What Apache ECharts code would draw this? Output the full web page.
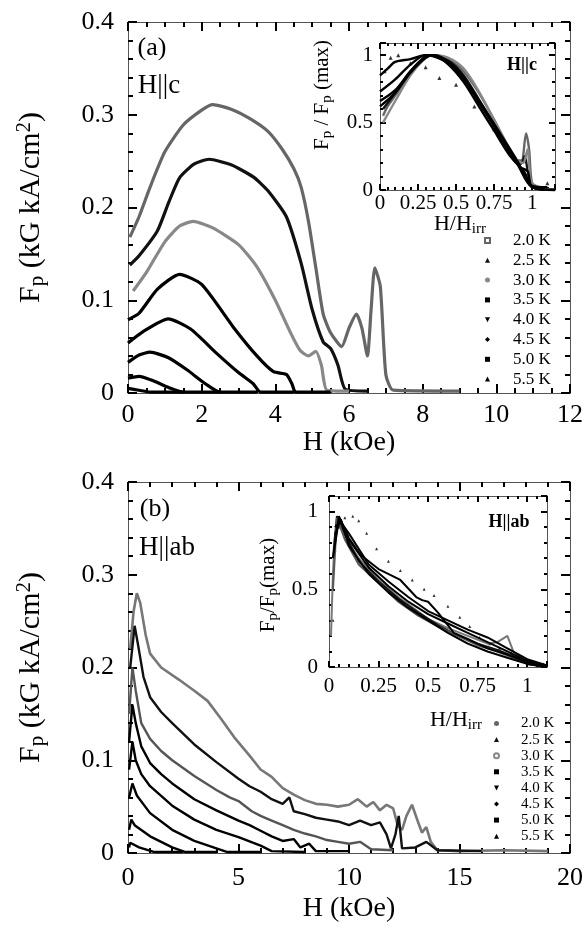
<!DOCTYPE html>
<html>
<head>
<meta charset="utf-8">
<script src="https://cdn.jsdelivr.net/npm/echarts@6/dist/echarts.min.js"></script>
<style>
html, body { margin: 0; padding: 0; background: #fff; }
#chart { width: 588px; height: 933px; }
</style>
</head>
<body>
<div id="chart"></div>
<script>
const FONT = 'Liberation Serif'
const temps = ['2.0 K', '2.5 K', '3.0 K', '3.5 K', '4.0 K', '4.5 K', '5.0 K', '5.5 K']

// (a) H||c : [H (kOe), Fp (kG kA/cm2)]
const c20 = [[0.05,0.168],[0.3,0.19],[0.6,0.222],[1.0,0.26],[1.5,0.289],[2.0,0.305],[2.3,0.311],[2.8,0.306],[3.3,0.296],[3.8,0.282],[4.2,0.262],[4.5,0.242],[4.7,0.222],[4.9,0.185],[5.1,0.135],[5.3,0.085],[5.5,0.065],[5.8,0.05],[6.0,0.07],[6.2,0.085],[6.35,0.07],[6.5,0.04],[6.6,0.09],[6.7,0.135],[6.85,0.115],[7.0,0.02],[7.2,0.003],[9.0,0.002]]
const c25 = [[0.05,0.138],[0.3,0.148],[0.8,0.175],[1.1,0.205],[1.4,0.232],[1.8,0.247],[2.2,0.252],[2.8,0.246],[3.4,0.233],[3.8,0.218],[4.3,0.19],[4.7,0.14],[5.0,0.09],[5.3,0.055],[5.5,0.048],[5.7,0.03],[5.9,0.004],[6.5,0.002]]
const c30 = [[0.14,0.11],[0.5,0.13],[1.0,0.163],[1.4,0.18],[1.77,0.185],[2.3,0.178],[3.0,0.16],[3.5,0.136],[4.0,0.1],[4.4,0.066],[4.67,0.046],[4.9,0.04],[5.1,0.045],[5.25,0.03],[5.4,0.003],[6.0,0.002]]
const c35 = [[0,0.079],[0.3,0.086],[0.8,0.112],[1.4,0.128],[2.0,0.117],[2.86,0.071],[3.5,0.04],[3.95,0.023],[4.3,0.02],[4.45,0.01],[4.55,0.001],[5.5,0.001]]
const c40 = [[0,0.054],[0.4,0.066],[1.09,0.08],[1.7,0.069],[2.4,0.043],[3.0,0.022],[3.4,0.01],[3.6,0.001],[4.5,0.001]]
const c45 = [[0,0.033],[0.3,0.041],[0.6,0.044],[1.1,0.038],[1.6,0.025],[2.1,0.01],[2.5,0.001],[3.5,0.001]]
const c50 = [[0,0.016],[0.3,0.018],[0.7,0.013],[1.1,0.006],[1.5,0.001],[2.5,0.001]]
const c55 = [[0,0.005],[0.3,0.003],[0.6,0.001],[1.5,0.001]]

// (a) inset : [H/Hirr, Fp/Fp(max)]
const nc20 = [[0.02,0.55],[0.05,0.62],[0.1,0.7],[0.2,0.86],[0.3,0.98],[0.35,1.0],[0.45,0.97],[0.55,0.88],[0.65,0.72],[0.75,0.52],[0.85,0.3],[0.9,0.22],[0.93,0.22],[0.96,0.42],[0.98,0.3],[1.0,0.05],[1.05,0.01],[1.15,0]]
const nc25 = [[0.02,0.6],[0.1,0.72],[0.2,0.88],[0.3,0.99],[0.35,1.0],[0.45,0.96],[0.55,0.85],[0.65,0.67],[0.75,0.48],[0.85,0.28],[0.9,0.2],[0.93,0.2],[0.95,0.25],[0.97,0.15],[1.0,0.03],[1.15,0]]
const nc30 = [[0.02,0.5],[0.1,0.66],[0.2,0.85],[0.3,0.98],[0.35,1.0],[0.45,0.98],[0.55,0.9],[0.65,0.73],[0.75,0.52],[0.85,0.31],[0.9,0.22],[0.94,0.2],[0.97,0.3],[1.0,0.05],[1.15,0]]
const nc35 = [[0,0.62],[0.1,0.72],[0.2,0.87],[0.3,0.98],[0.36,1.0],[0.45,0.95],[0.55,0.83],[0.65,0.65],[0.75,0.47],[0.85,0.28],[0.92,0.17],[0.97,0.14],[1.0,0.02],[1.15,0]]
const nc40 = [[0,0.66],[0.1,0.74],[0.2,0.88],[0.3,0.99],[0.35,1.0],[0.45,0.93],[0.55,0.8],[0.65,0.62],[0.75,0.44],[0.85,0.26],[0.95,0.13],[1.0,0.02],[1.15,0]]
const nc45 = [[0,0.73],[0.1,0.82],[0.2,0.93],[0.3,1.0],[0.4,0.98],[0.5,0.88],[0.6,0.74],[0.7,0.57],[0.8,0.38],[0.9,0.2],[1.0,0.02],[1.15,0]]
const nc50 = [[0,0.85],[0.05,0.9],[0.1,0.95],[0.2,0.97],[0.3,1.0],[0.4,0.97],[0.5,0.9],[0.6,0.75],[0.7,0.58],[0.8,0.4],[0.9,0.22],[1.0,0.03],[1.1,0.02]]
const nc55 = [[0.03,0.88],[0.07,0.98],[0.12,1.0],[0.2,0.94],[0.3,0.91],[0.39,0.83],[0.5,0.78],[0.62,0.62],[0.75,0.45],[0.85,0.3],[0.92,0.2],[0.97,0.15],[1.02,0.03],[1.1,0.05]]

// (b) H||ab : [H (kOe), Fp]
const ab20 = [[0.1,0.22],[0.25,0.26],[0.4,0.28],[0.55,0.27],[0.8,0.235],[1.0,0.215],[1.5,0.2],[2.3,0.187],[3.0,0.175],[3.6,0.164],[4.2,0.145],[4.8,0.125],[5.5,0.105],[6.0,0.09],[6.5,0.082],[7.0,0.07],[7.5,0.063],[8.0,0.057],[8.5,0.053],[9.0,0.052],[9.5,0.05],[10.0,0.052],[10.4,0.058],[10.8,0.05],[11.1,0.055],[11.4,0.046],[11.7,0.052],[12.0,0.048],[12.2,0.03],[12.4,0.025],[12.6,0.04],[12.85,0.052],[13.1,0.035],[13.3,0.022],[13.5,0.028],[13.7,0.012],[14.0,0.003],[15,0.002],[17,0.003],[19,0.002]]
const ab25 = [[0.1,0.2],[0.3,0.245],[0.45,0.225],[0.7,0.19],[1.0,0.168],[1.5,0.152],[2.0,0.14],[3.0,0.117],[4.0,0.098],[5.0,0.08],[5.5,0.072],[6.0,0.066],[6.5,0.058],[7.0,0.053],[7.3,0.06],[7.5,0.045],[8.0,0.042],[8.5,0.038],[9.0,0.036],[9.5,0.034],[10.0,0.03],[10.5,0.035],[11.0,0.03],[11.4,0.033],[11.7,0.02],[11.9,0.005],[12.1,0.02],[12.25,0.04],[12.4,0.005],[13,0.006],[13.5,0.012],[14,0.003],[16,0.002]]
const ab30 = [[0.05,0.15],[0.2,0.2],[0.35,0.175],[0.6,0.14],[1.0,0.123],[1.5,0.11],[2.0,0.1],[3.0,0.083],[4.0,0.068],[4.6,0.06],[5.0,0.056],[5.6,0.045],[6.0,0.04],[6.5,0.035],[7.0,0.03],[7.5,0.025],[8.0,0.021],[8.5,0.018],[9.0,0.014],[9.5,0.012],[10.0,0.01],[10.5,0.012],[11.0,0.004],[12,0.003]]
const ab35 = [[0.05,0.12],[0.2,0.16],[0.35,0.14],[0.6,0.115],[1.0,0.097],[1.5,0.085],[2.0,0.075],[3.0,0.058],[4.0,0.046],[5.0,0.035],[5.5,0.03],[6.0,0.024],[6.5,0.018],[7.0,0.013],[7.5,0.015],[7.8,0.006],[8.2,0.01],[8.5,0.002],[10,0.002]]
const ab40 = [[0.05,0.09],[0.2,0.12],[0.35,0.1],[0.6,0.085],[1.0,0.072],[2.0,0.051],[3.0,0.036],[4.0,0.025],[5.0,0.017],[6.0,0.008],[6.5,0.002],[8,0.001]]
const ab45 = [[0.05,0.06],[0.2,0.075],[0.4,0.062],[1.0,0.043],[2.0,0.025],[3.0,0.013],[4.0,0.005],[4.5,0.001],[6,0.001]]
const ab50 = [[0.05,0.025],[0.15,0.036],[0.3,0.03],[1.0,0.018],[2.0,0.006],[2.6,0.001],[4,0.001]]
const ab55 = [[0.05,0.006],[0.1,0.011],[0.5,0.006],[1.2,0.001],[2.5,0.001]]

// (b) inset
const nab20 = [[0.01,0.2],[0.02,0.6],[0.03,0.85],[0.05,0.95],[0.1,0.8],[0.15,0.7],[0.25,0.56],[0.35,0.45],[0.5,0.31],[0.6,0.25],[0.7,0.2],[0.8,0.15],[0.85,0.16],[0.9,0.2],[0.93,0.1],[1.0,0.03],[1.1,0]]
const nab25 = [[0.02,0.7],[0.04,0.97],[0.08,0.85],[0.15,0.68],[0.25,0.55],[0.35,0.44],[0.45,0.35],[0.55,0.27],[0.65,0.2],[0.75,0.15],[0.85,0.11],[0.95,0.06],[1.0,0.02],[1.1,0]]
const nab30 = [[0.02,0.5],[0.04,0.96],[0.08,0.82],[0.15,0.66],[0.25,0.54],[0.35,0.42],[0.45,0.33],[0.55,0.26],[0.65,0.2],[0.75,0.14],[0.85,0.1],[0.95,0.05],[1.05,0.01]]
const nab35 = [[0.03,0.8],[0.05,0.97],[0.1,0.83],[0.16,0.72],[0.25,0.63],[0.36,0.56],[0.44,0.45],[0.47,0.43],[0.5,0.42],[0.55,0.35],[0.63,0.22],[0.7,0.18],[0.8,0.12],[0.9,0.08],[1.0,0.03],[1.1,0]]
const nab40 = [[0.03,0.85],[0.06,0.95],[0.1,0.78],[0.2,0.6],[0.3,0.48],[0.4,0.38],[0.5,0.3],[0.6,0.22],[0.7,0.15],[0.8,0.1],[0.9,0.06],[1.0,0.02],[1.1,0]]
const nab45 = [[0.03,0.9],[0.06,0.94],[0.1,0.82],[0.2,0.64],[0.3,0.52],[0.4,0.42],[0.5,0.34],[0.6,0.28],[0.7,0.22],[0.8,0.16],[0.9,0.1],[1.0,0.04],[1.1,0.01]]
const nab50 = [[0.02,0.7],[0.05,0.95],[0.1,0.86],[0.2,0.66],[0.3,0.55],[0.4,0.45],[0.5,0.36],[0.6,0.3],[0.7,0.24],[0.8,0.19],[0.9,0.12],[1.0,0.05],[1.1,0.01]]
const nab55 = [[0.02,0.3],[0.03,0.75],[0.05,0.9],[0.08,0.96],[0.12,0.97],[0.15,0.94],[0.19,0.86],[0.24,0.76],[0.3,0.68],[0.36,0.62],[0.42,0.56],[0.48,0.5],[0.53,0.46],[0.6,0.39],[0.66,0.32],[0.71,0.26],[0.76,0.19],[0.81,0.15],[0.86,0.12],[0.92,0.09],[0.98,0.05],[1.03,0.03],[1.08,0.02]]

const cMain = [c20, c25, c30, c35, c40, c45, c50, c55]
const cNorm = [nc20, nc25, nc30, nc35, nc40, nc45, nc50, nc55]
const abMain = [ab20, ab25, ab30, ab35, ab40, ab45, ab50, ab55]
const abNorm = [nab20, nab25, nab30, nab35, nab40, nab45, nab50, nab55]

const cColors = ['#666', '#111', '#888', '#000', '#000', '#000', '#000', '#000']
const abColors = ['#777', '#111', '#555', '#000', '#000', '#000', '#000', '#000']
const cIcons = ['emptyRect', 'triangle', 'circle', 'rect', 'path://M0,0L10,0L5,10Z', 'diamond', 'rect', 'triangle']
const abIcons = ['circle', 'triangle', 'emptyCircle', 'rect', 'path://M0,0L10,0L5,10Z', 'diamond', 'rect', 'triangle']

const chart = echarts.init(document.getElementById('chart'))

function rich(size, sub, shift) {
  return {
    n: { fontFamily: FONT, fontSize: size, lineHeight: size + 4, color: '#000' },
    d: { fontFamily: FONT, fontSize: sub, lineHeight: shift, verticalAlign: 'bottom', color: '#000' },
    u: { fontFamily: FONT, fontSize: sub, lineHeight: shift, verticalAlign: 'top', color: '#000' }
  }
}

const grids = [
  { left: 128, top: 22, width: 442, height: 371 },
  { left: 128, top: 482, width: 442, height: 371 },
  { left: 380, top: 43, width: 175, height: 147 },
  { left: 329, top: 496, width: 218, height: 171 }
]

const axisGray = '#555'
const tickColor = '#000'
// one axis carries the labels, two bare axes carry the ticks on both sides
function tickAxis(g, min, max, interval, split, position) {
  return {
    gridIndex: g, type: 'value', min, max, interval, position,
    splitLine: { show: false },
    axisLabel: { show: false },
    axisLine: { show: true, onZero: false, lineStyle: { color: axisGray, width: 1 } },
    axisTick: { show: true, inside: true, length: g < 2 ? 9 : 6, lineStyle: { color: tickColor, width: 2 } },
    minorTick: { show: true, splitNumber: split, length: g < 2 ? 5 : 3, lineStyle: { color: tickColor, width: 2 } }
  }
}
function labelAxis(g, min, max, interval, position, fs, margin, hideMax) {
  return {
    gridIndex: g, type: 'value', min, max, interval, position,
    splitLine: { show: false },
    axisLine: { show: false, onZero: false },
    axisTick: { show: false },
    minorTick: { show: false },
    axisLabel: { fontFamily: FONT, fontSize: fs, color: '#000', margin, showMaxLabel: !hideMax }
  }
}
function xSet(g, min, max, interval, split, fs, margin, hideMax, name, nameGap) {
  const lab = labelAxis(g, min, max, interval, 'bottom', fs, margin, hideMax)
  if (name) {
    Object.assign(lab, { name, nameLocation: 'middle', nameGap,
      nameTextStyle: { fontFamily: FONT, fontSize: 28, color: '#000' } })
  }
  return [tickAxis(g, min, max, interval, split, 'bottom'), tickAxis(g, min, max, interval, split, 'top'), lab]
}
function ySet(g, min, max, interval, split, fs, margin, hideMax, name, nameGap) {
  const lab = labelAxis(g, min, max, interval, 'left', fs, margin, hideMax)
  if (name) {
    Object.assign(lab, { name, nameLocation: 'middle', nameGap, nameRotate: 90,
      nameTextStyle: { rich: rich(30, 21, 4) } })
  }
  return [tickAxis(g, min, max, interval, split, 'left'), tickAxis(g, min, max, interval, split, 'right'), lab]
}

const yName = '{n|F}{d|p}{n| (kG kA/cm}{u|2}{n|)}'

const xAxes = [].concat(
  xSet(0, 0, 12, 2, 4, 26, 9, false, 'H (kOe)', 36),
  xSet(1, 0, 20, 5, 5, 26, 12, false, 'H (kOe)', 42),
  xSet(2, 0, 1.15, 0.25, 5, 21, 3, true),
  xSet(3, 0, 1.1, 0.25, 5, 21, 9, true)
)
const yAxes = [].concat(
  ySet(0, 0, 0.4, 0.1, 5, 26, 14, false, yName, 80),
  ySet(1, 0, 0.4, 0.1, 5, 26, 14, false, yName, 80),
  ySet(2, 0, 1.09, 0.5, 5, 21, 7, true),
  ySet(3, 0, 1.1, 0.5, 5, 21, 11, true)
)

function curve(name, data, g, color, width, smooth) {
  return {
    type: 'line', name, data, xAxisIndex: 3 * g, yAxisIndex: 3 * g,
    showSymbol: false, symbol: 'none', smooth, animation: false, silent: true,
    lineStyle: { color, width }, itemStyle: { color }
  }
}
function dots(name, data, g, color, symbol, size) {
  return {
    type: 'scatter', name, data, xAxisIndex: 3 * g, yAxisIndex: 3 * g,
    symbol, symbolSize: size, animation: false, silent: true,
    itemStyle: { color }
  }
}

const series = []
temps.forEach((t, i) => {
  series.push(curve(t, cMain[i], 0, cColors[i], 3.2, 0.2))
  series.push(curve(t, abMain[i], 1, abColors[i], i === 0 ? 2.6 : 2.4, false))
  if (i === 7) {
    series.push(dots(t, cNorm[i], 2, '#000', 'triangle', 4))
    series.push(dots(t, abNorm[i], 3, '#000', 'triangle', 3))
  } else {
    series.push(curve(t, cNorm[i], 2, cColors[i], 2.4, 0.3))
    series.push(curve(t, abNorm[i], 3, abColors[i], 2, false))
  }
})

function legendFor(icons, left, top, fs, lh, gap, pad) {
  return {
    left, top, orient: 'vertical', itemWidth: 5, itemHeight: 5, itemGap: gap,
    selectedMode: false, padding: 0,
    data: temps.map((t, i) => ({ name: t, icon: icons[i] })),
    textStyle: { fontFamily: FONT, fontSize: fs, lineHeight: lh, color: '#000', padding: [0, 0, 0, pad] }
  }
}

function label(x, y, text, size, weight) {
  return { type: 'text', x, y, z: 100,
    style: { text, fontFamily: FONT, fontSize: size, fontWeight: weight || 'normal', fill: '#000', align: 'center', verticalAlign: 'middle' } }
}
function richLabel(x, y, text, size, sub, shift, rot) {
  return { type: 'text', x, y, rotation: rot || 0, z: 100,
    style: { text, align: 'center', verticalAlign: 'middle', rich: rich(size, sub, shift) } }
}

chart.setOption({
  backgroundColor: '#fff',
  animation: false,
  grid: grids,
  xAxis: xAxes,
  yAxis: yAxes,
  series,
  legend: [
    legendFor(cIcons, 484, 232, 17, 16, 2.8, 18),
    legendFor(abIcons, 493, 716, 15, 13, 1.1, 17)
  ],
  graphic: [
    label(152, 48, '(a)', 26),
    label(159, 86, 'H||c', 27),
    label(155, 509, '(b)', 26),
    label(167, 548, 'H||ab', 27),
    label(522, 65, 'H||c', 18, 'bold'),
    label(509, 522, 'H||ab', 18, 'bold'),
    richLabel(322, 95, '{n|F}{d|p}{n| / F}{d|p}{n| (max)}', 21, 15, 4, Math.PI / 2),
    richLabel(268, 585, '{n|F}{d|p}{n|/F}{d|p}{n|(max)}', 21, 15, 4, Math.PI / 2),
    richLabel(460, 224, '{n|H/H}{d|irr}', 22, 15, 4),
    richLabel(456, 720, '{n|H/H}{d|irr}', 22, 15, 4)
  ]
})
</script>
</body>
</html>
